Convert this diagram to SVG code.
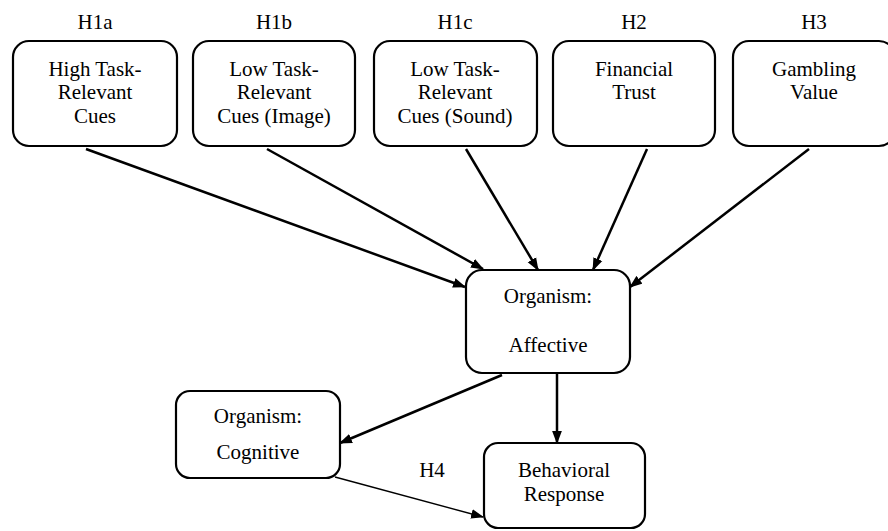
<svg xmlns="http://www.w3.org/2000/svg" width="888" height="531" viewBox="0 0 888 531">
<style>
.box{fill:#fff;stroke:#000;stroke-width:2.2}
.t{font-family:'Liberation Serif','Times New Roman',Times,'DejaVu Serif',serif;font-size:21px;text-anchor:middle;fill:#000}
.c{stroke:#000;stroke-width:2.5;fill:none}
.thin{stroke:#000;stroke-width:1.4;fill:none}
</style>
<defs>
<marker id="ah" viewBox="0 0 12 10" refX="11" refY="5" markerWidth="13" markerHeight="11" markerUnits="userSpaceOnUse" orient="auto">
<path d="M0,0.5 L12,5 L0,9.5 Z" fill="#000"/>
</marker>
</defs>
<rect width="888" height="531" fill="#fff"/>
<g id="connectors">
<line class="c" x1="86" y1="149" x2="465" y2="287" marker-end="url(#ah)"/>
<line class="c" x1="267" y1="149" x2="483" y2="269" marker-end="url(#ah)"/>
<line class="c" x1="466" y1="149" x2="538" y2="270" marker-end="url(#ah)"/>
<line class="c" x1="647" y1="149" x2="593" y2="270" marker-end="url(#ah)"/>
<line class="c" x1="809" y1="149" x2="630" y2="287" marker-end="url(#ah)"/>
<line class="c" x1="502" y1="375" x2="340" y2="443" marker-end="url(#ah)"/>
<line class="c" x1="557" y1="374" x2="557" y2="443" marker-end="url(#ah)"/>
<line class="thin" x1="335" y1="477" x2="483" y2="517" marker-end="url(#ah)"/>
<text class="t" x="432" y="477">H4</text>
</g>
<g id="n-h1a">
<text class="t" x="95" y="29">H1a</text>
<rect class="box" x="13" y="41" width="164" height="105" rx="16"/>
<text class="t" x="95" y="76">High Task-</text>
<text class="t" x="95" y="99">Relevant</text>
<text class="t" x="95" y="123">Cues</text>
</g>
<g id="n-h1b">
<text class="t" x="274" y="29">H1b</text>
<rect class="box" x="193" y="41" width="162" height="105" rx="16"/>
<text class="t" x="274" y="76">Low Task-</text>
<text class="t" x="274" y="99">Relevant</text>
<text class="t" x="274" y="123">Cues (Image)</text>
</g>
<g id="n-h1c">
<text class="t" x="455" y="29">H1c</text>
<rect class="box" x="374" y="41" width="163" height="105" rx="16"/>
<text class="t" x="455" y="76">Low Task-</text>
<text class="t" x="455" y="99">Relevant</text>
<text class="t" x="455" y="123">Cues (Sound)</text>
</g>
<g id="n-h2">
<text class="t" x="634" y="29">H2</text>
<rect class="box" x="553" y="41" width="162" height="105" rx="16"/>
<text class="t" x="634" y="76">Financial</text>
<text class="t" x="634" y="99">Trust</text>
</g>
<g id="n-h3">
<text class="t" x="814" y="29">H3</text>
<rect class="box" x="733" y="41" width="162" height="105" rx="16"/>
<text class="t" x="814" y="76">Gambling</text>
<text class="t" x="814" y="99">Value</text>
</g>
<g id="n-affective">
<rect class="box" x="466" y="270" width="164" height="103" rx="16"/>
<text class="t" x="548" y="303">Organism:</text>
<text class="t" x="548" y="352">Affective</text>
</g>
<g id="n-cognitive">
<rect class="box" x="176" y="391" width="164" height="87" rx="14"/>
<text class="t" x="258" y="423">Organism:</text>
<text class="t" x="258" y="459">Cognitive</text>
</g>
<g id="n-behavioral">
<rect class="box" x="484" y="443" width="161" height="85" rx="14"/>
<text class="t" x="564" y="477">Behavioral</text>
<text class="t" x="564" y="501">Response</text>
</g>
</svg>
